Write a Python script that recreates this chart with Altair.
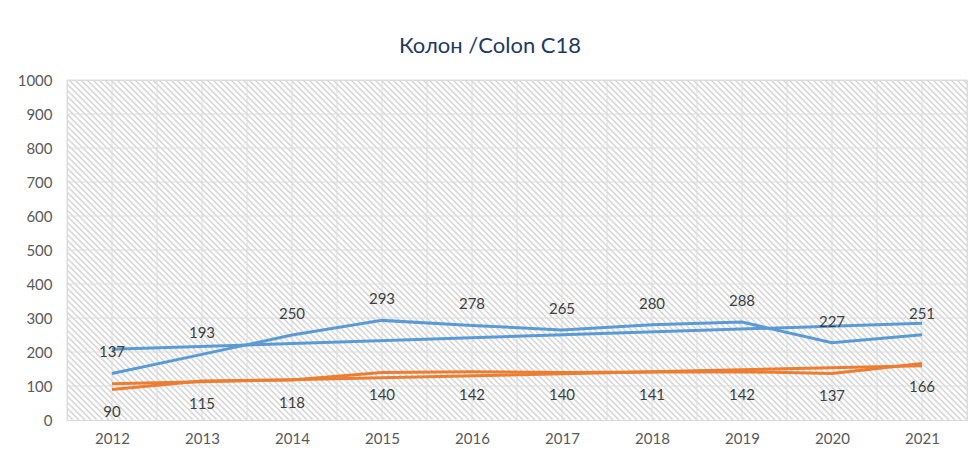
import altair as alt
import pandas as pd

years = [2012, 2013, 2014, 2015, 2016, 2017, 2018, 2019, 2020, 2021]
blue_values = [137, 193, 250, 293, 278, 265, 280, 288, 227, 251]
orange_values = [90, 115, 118, 140, 142, 140, 141, 142, 137, 166]
series_names = ["blue", "orange"]
series_colors = ["#5B9BD5", "#ED7D31"]
y_ticks = [0, 100, 200, 300, 400, 500, 600, 700, 800, 900, 1000]
title_text = "Колон /Colon C18"

rows = []
for y, v in zip(years, blue_values):
    rows.append({"year": y, "value": v, "series": "blue"})
for y, v in zip(years, orange_values):
    rows.append({"year": y, "value": v, "series": "orange"})
df = pd.DataFrame(rows)

W, H = 900, 340
x_dom = [years[0] - 0.5, years[-1] + 0.5]
y_dom = [y_ticks[0], y_ticks[-1]]

grid_x = []
v = x_dom[0]
while v <= x_dom[1] + 1e-9:
    grid_x.append(v)
    v += 0.5

x_scale = alt.Scale(domain=x_dom, nice=False, zero=False)
y_scale = alt.Scale(domain=y_dom, nice=False)
color_scale = alt.Scale(domain=series_names, range=series_colors)

x_axis = alt.Axis(values=years, format="d", title=None, grid=False, ticks=False,
                  domainColor="#d9d9d9", labelColor="#595959", labelFontSize=15,
                  labelFont="Lato", labelPadding=11, labelOverlap=False)
y_axis = alt.Axis(values=y_ticks, format="d", title=None, grid=False, ticks=False,
                  domain=False, labelColor="#595959", labelFontSize=15, labelFont="Lato",
                  labelPadding=15, labelOverlap=False)

# diagonal hatch texture of the plot area (decoration)
px_per_year = W / (x_dom[1] - x_dom[0])
spacing = 6
n_stripes = int((W + H) / spacing) + 2
hatch = alt.Chart(alt.sequence(0, n_stripes, as_="i")).transform_calculate(
    xa=f"{x_dom[0]} + (-{H} + datum.i * {spacing}) / {px_per_year}",
    xb=f"{x_dom[0]} + (datum.i * {spacing}) / {px_per_year}",
    ya=f"{y_dom[1]}",
    yb=f"{y_dom[0]}",
).mark_rule(clip=True, stroke="#d4d4d4", strokeWidth=1.4).encode(
    x=alt.X("xa:Q", scale=x_scale, axis=x_axis),
    x2="xb:Q",
    y=alt.Y("ya:Q", scale=y_scale, axis=y_axis),
    y2="yb:Q",
)

grid_v = alt.Chart(pd.DataFrame({"gx": grid_x})).mark_rule(stroke="#dcdcdc", strokeWidth=1).encode(
    x=alt.X("gx:Q", scale=x_scale, axis=x_axis),
)
grid_h = alt.Chart(pd.DataFrame({"gy": y_ticks[1:]})).mark_rule(stroke="#dcdcdc", strokeWidth=1).encode(
    y=alt.Y("gy:Q", scale=y_scale, axis=y_axis),
)

base = alt.Chart(df)

lines = base.mark_line(strokeWidth=3).encode(
    x=alt.X("year:Q", scale=x_scale, axis=x_axis),
    y=alt.Y("value:Q", scale=y_scale, axis=y_axis),
    color=alt.Color("series:N", scale=color_scale, legend=None),
)

trends = base.transform_regression("year", "value", groupby=["series"]).mark_line(strokeWidth=3).encode(
    x=alt.X("year:Q", scale=x_scale, axis=x_axis),
    y=alt.Y("value:Q", scale=y_scale, axis=y_axis),
    color=alt.Color("series:N", scale=color_scale, legend=None),
)

labels_blue = base.transform_filter(alt.datum.series == "blue").mark_text(
    dy=-21, fontSize=15, font="Lato", color="#404040"
).encode(x=alt.X("year:Q", scale=x_scale, axis=x_axis),
         y=alt.Y("value:Q", scale=y_scale, axis=y_axis), text="value:Q")

labels_orange = base.transform_filter(alt.datum.series == "orange").mark_text(
    dy=23, fontSize=15, font="Lato", color="#404040"
).encode(x=alt.X("year:Q", scale=x_scale, axis=x_axis),
         y=alt.Y("value:Q", scale=y_scale, axis=y_axis), text="value:Q")

chart = alt.layer(hatch, grid_v, grid_h, lines, trends, labels_blue, labels_orange).properties(
    width=W,
    height=H,
    autosize=alt.AutoSizeParams(type="none"),
    padding={"left": 59, "top": 72, "right": 2, "bottom": 26},
    title=alt.TitleParams(title_text, font="Lato", fontSize=22, fontWeight="normal",
                          color="#1F3864", anchor="middle", dx=-27, offset=15),
).configure_view(stroke=None).configure(background="white")

chart.save("out.html", embed_options={"renderer": "svg", "actions": False})
